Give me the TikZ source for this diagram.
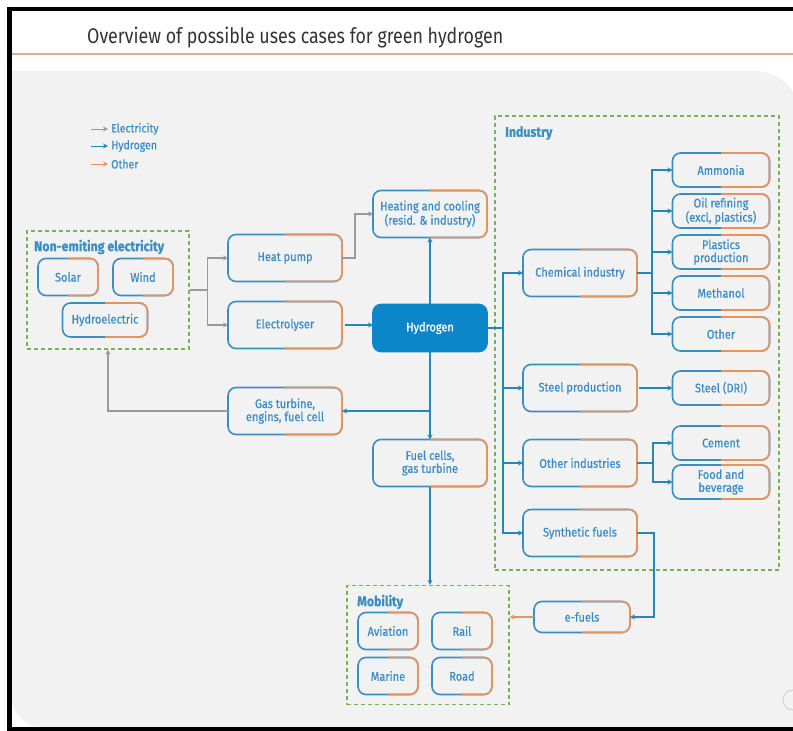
\documentclass[tikz,border=0pt]{standalone}
\usepackage{fontspec}
\setmainfont{Fira Sans}
\newfontfamily\titlefont[FakeStretch=0.84]{Fira Sans}
\newfontfamily\narrowfont[FakeStretch=0.88, FakeBold=0.6]{Fira Sans}
\usetikzlibrary{arrows.meta, positioning}

\definecolor{hblue}{HTML}{3A8FC0}
\definecolor{horange}{HTML}{E8925E}
\definecolor{htext}{HTML}{3A8CC8}
\definecolor{hfill}{HTML}{0B86C8}
\definecolor{harrow}{HTML}{2587B6}
\definecolor{hgreen}{HTML}{77B255}
\definecolor{hgray}{HTML}{9A9A9A}
\definecolor{panel}{HTML}{F2F2F2}
\definecolor{rulecol}{HTML}{D9AE8C}

\begin{document}
\begin{tikzpicture}[
            x = 1pt, y = -1pt, % pixel grid, y downwards
            > = {Stealth[length=5pt, width=5pt]},
            node distance = 7pt,
        ]
 \tikzset{
   box/.style = {draw = hblue, line width = 1.6pt, rounded corners = 8pt,
                 fill = panel, text = htext, align = center, outer sep = 0pt,
                 inner sep = 2pt, minimum width = 114pt, minimum height = 47pt,
                 font = \narrowfont\fontsize{12.5}{13}\selectfont},
   smallbox/.style = {box, minimum width = 97pt, minimum height = 34pt},
   tinybox/.style = {box, minimum width = 60pt, minimum height = 37pt},
   group/.style = {draw = hgreen, line width = 1.2pt, dash pattern = on 4pt off 3pt,
                   minimum width = #1},
   grouptitle/.style = {text = hblue, anchor = west, inner sep = 0pt,
                        font = \bfseries\narrowfont\fontsize{14}{15}\selectfont},
   legend/.style = {text = htext, anchor = west, inner sep = 0pt,
                    font = \narrowfont\fontsize{12}{13}\selectfont},
   elec/.style = {->, hgray, line width = 1.5pt},
   hyd/.style = {->, harrow, line width = 1.5pt},
   oth/.style = {->, horange, line width = 1.5pt},
 }
\useasboundingbox (0,0) rectangle (793,731);

% page frame and panel
\fill[white] (0,0) rectangle (793,731);
\begin{scope}
  \clip[rounded corners = 30pt] (12,-100) rectangle (900,727);
  \fill[panel, rounded corners = 45pt] (-60,71) rectangle (800,800);
\end{scope}
\fill[black] (7,7) rectangle (793,11);
\fill[black] (7,7) rectangle (12,731);
\fill[black] (7,727) rectangle (793,731);
\draw[rulecol, line width = 2pt] (12,54) -- (793,54);
\draw[black!18, line width = 1pt] (793,700) circle (10);

\node[anchor = base west, inner sep = 0pt, text = black!80,
      font = \titlefont\fontsize{21.2}{23}\selectfont] (title) at (87,43)
     {Overview of possible uses cases for green hydrogen};

% legend
\node[legend] (lelec) at (111,129) {Electricity};
\node[legend] (lhyd) at (111,146) {Hydrogen};
\node[legend] (loth) at (111,164) {Other};
\draw[elec, line width = 1pt] ([xshift=-20pt]lelec.west) -- ([xshift=-3pt]lelec.west);
\draw[hyd, line width = 1pt] ([xshift=-20pt]lhyd.west) -- ([xshift=-3pt]lhyd.west);
\draw[oth, line width = 1pt] ([xshift=-20pt]loth.west) -- ([xshift=-3pt]loth.west);

% groups
\node[group = 162pt, minimum height = 118pt] (neg) at (108,290) {};
\node[grouptitle] at (34,247) {Non-emiting electricity};
\node[group = 284pt, minimum height = 454pt] (industry) at (637,343) {};
\node[grouptitle] at (505,133) {Industry};
\node[group = 162pt, minimum height = 119pt] (mobility) at (428,645) {};
\node[grouptitle] at (357,602) {Mobility};

% electricity sources
\node[tinybox] (solar) at (68,277) {Solar};
\node[tinybox] (wind) at (143,277) {Wind};
\node[box, minimum width = 85pt, minimum height = 34pt] (hydro) at (105,320) {Hydroelectric};

% conversion
\node[box] (heatpump) at (285,258) {Heat pump};
\node[box] (electrolyser) at (285,325) {Electrolyser};
\node[box] (gasturb) at (285,411) {Gas turbine,\\engins, fuel cell};
\node[box] (heating) at (430,214) {Heating and cooling\\(resid. \& industry)};
\node[box, fill = hfill, draw = hfill, text = white] (hydrogen) at (430,328) {Hydrogen};
\node[box] (fuelcell) at (430,463) {Fuel cells,\\gas turbine};

% industry
\node[box] (chem) at (580,273) {Chemical industry};
\node[box] (steelprod) at (580,388) {Steel production};
\node[box] (otherind) at (580,463) {Other industries};
\node[box] (synth) at (580,533) {Synthetic fuels};
\node[smallbox] (ammonia) at (721,170) {Ammonia};
\node[smallbox, below = of ammonia] (oil) {Oil refining\\(excl, plastics)};
\node[smallbox, below = of oil] (plastics) {Plastics\\production};
\node[smallbox, below = of plastics] (methanol) {Methanol};
\node[smallbox, below = of methanol] (otherchem) {Other};
\node[smallbox] (steel) at (721,388) {Steel (DRI)};
\node[smallbox] (cement) at (721,443) {Cement};
\node[smallbox, below = 5pt of cement] (food) {Food and\\beverage};

% mobility
\node[box, minimum width = 96pt, minimum height = 31pt] (efuels) at (582,617) {e-fuels};
\node[tinybox] (aviation) at (388,631) {Aviation};
\node[tinybox] (rail) at (462,631) {Rail};
\node[tinybox] (marine) at (388,676) {Marine};
\node[tinybox] (road) at (462,676) {Road};

% orange right half of the outlines
\foreach \n in {solar, wind, hydro, heatpump, electrolyser, gasturb, heating,
                fuelcell, chem, steelprod, otherind, synth, ammonia, oil, plastics,
                methanol, otherchem, steel, cement, food, efuels, aviation, rail,
                marine, road} {
  \begin{scope}
    \clip ([yshift=3pt]\n.north) rectangle ([xshift=3pt, yshift=-3pt]\n.south east);
    \draw[horange, line width = 1.6pt, rounded corners = 8pt]
         (\n.south west) rectangle (\n.north east);
  \end{scope}
}

% electricity
\draw[elec] (neg.east) -- ++(18,0) |- (heatpump.west);
\draw[elec] (neg.east) -- ++(18,0) |- (electrolyser.west);
\draw[elec] (heatpump.east) -- ++(13,0) |- (heating.west);
\draw[elec] (gasturb.west) -| (neg.south);

% hydrogen
\draw[hyd] ([xshift=3pt]electrolyser.east) -- (electrolyser.east -| hydrogen.west);
\draw[hyd] (hydrogen.north) -- (heating.south);
\draw[hyd] (hydrogen.south) -- (fuelcell.north);
\draw[hyd] (hydrogen.south |- gasturb.east) -- (gasturb.east);
\draw[hyd] (fuelcell.south) -- (fuelcell.south |- mobility.north);
\coordinate (itrunk) at ([xshift=-20pt]chem.west);
\draw[hyd, -] (hydrogen.east) -- (hydrogen.east -| itrunk);
\foreach \t in {chem, steelprod, otherind, synth}
  \draw[hyd] (itrunk |- hydrogen.east) |- (\t.west);
\foreach \t in {ammonia, oil, plastics, methanol, otherchem}
  \draw[hyd] (chem.east) -- ++(15,0) |- (\t.west);
\draw[hyd] ([xshift=2pt]steelprod.east) -- (steel.west);
\foreach \t in {cement, food}
  \draw[hyd] (otherind.east) -- ++(16,0) |- (\t.west);
\draw[hyd] (synth.east) -- ++(17,0) |- (efuels.east);

% other
\draw[oth] (efuels.west) -- (mobility.east |- efuels.west);
\end{tikzpicture}
\end{document}
